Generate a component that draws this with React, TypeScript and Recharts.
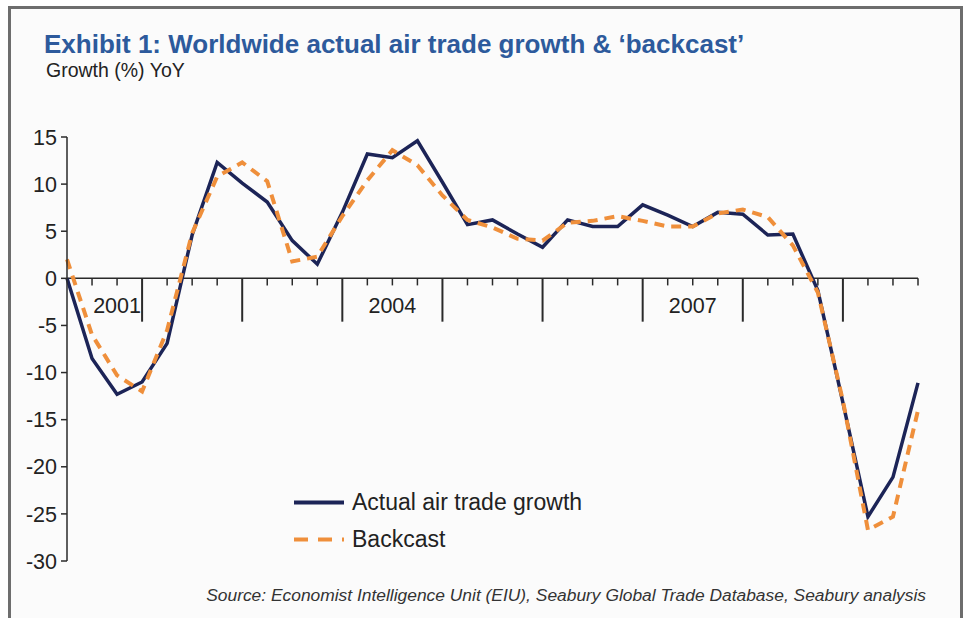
import React from 'react';
import { LineChart, Line, XAxis, YAxis, ReferenceLine, ReferenceDot, Legend } from 'recharts';

const quarters = [
  '2001 Q1', '2001 Q2', '2001 Q3', '2001 Q4',
  '2002 Q1', '2002 Q2', '2002 Q3', '2002 Q4',
  '2003 Q1', '2003 Q2', '2003 Q3', '2003 Q4',
  '2004 Q1', '2004 Q2', '2004 Q3', '2004 Q4',
  '2005 Q1', '2005 Q2', '2005 Q3', '2005 Q4',
  '2006 Q1', '2006 Q2', '2006 Q3', '2006 Q4',
  '2007 Q1', '2007 Q2', '2007 Q3', '2007 Q4',
  '2008 Q1', '2008 Q2', '2008 Q3', '2008 Q4',
  '2009 Q1', '2009 Q2', '2009 Q3',
];

const actualGrowth = [
  0, -8.5, -12.3, -11.0,
  -6.9, 4.6, 12.3, 10.1,
  8.1, 4.0, 1.5, 7.0,
  13.2, 12.8, 14.6, 10.2,
  5.7, 6.2, 4.7, 3.3,
  6.2, 5.5, 5.5, 7.8,
  6.7, 5.5, 7.0, 6.8,
  4.6, 4.7, -1.3, -13.2,
  -25.3, -21.1, -11.1,
];

const backcastGrowth = [
  2.0, -6.0, -10.3, -12.0,
  -5.5, 4.8, 10.8, 12.3,
  10.3, 1.8, 2.3, 6.6,
  10.4, 13.6, 12.0, 8.8,
  6.2, 5.4, 4.2, 4.0,
  5.9, 6.1, 6.6, 6.1,
  5.5, 5.5, 6.9, 7.3,
  6.5, 3.5, -1.5, -13.0,
  -26.7, -25.3, -14.0,
];

const yTicks = [15, 10, 5, 0, -5, -10, -15, -20, -25, -30];
const yearLabels = ['2001', '2004', '2007'];
const yearLabelAt = [2, 13, 25];
const majorTickAt = [3, 7, 11, 15, 19, 23, 27, 31];

const seriesNames = ['Actual air trade growth', 'Backcast'];

const data = quarters.map((q, i) => ({
  idx: i,
  quarter: q,
  actual: actualGrowth[i],
  backcast: backcastGrowth[i],
}));

const FONT = "'Liberation Sans', Arial, Helvetica, sans-serif";
const NAVY = '#1c2457';
const ORANGE = '#ef8f3b';
const AXIS = '#2a2a2a';
const MINOR_LEN = 0.75;
const MAJOR_LEN = 4.6;

const renderLegend = (props: any) => {
  const payload = props.payload || [];
  return (
    <div style={{ fontFamily: FONT }}>
      {payload.map((entry: any, i: number) => (
        <div key={i} style={{ display: 'flex', alignItems: 'center', height: 37 }}>
          <svg width={58} height={37} style={{ display: 'block' }}>
            <line
              x1={0}
              x2={50}
              y1={18.5}
              y2={18.5}
              stroke={entry.color}
              strokeWidth={4}
              strokeDasharray={entry.payload && entry.payload.strokeDasharray ? '14 10' : undefined}
            />
          </svg>
          <span style={{ fontSize: 23, lineHeight: '37px', color: '#222', whiteSpace: 'nowrap' }}>
            {entry.value}
          </span>
        </div>
      ))}
    </div>
  );
};

export default function App() {
  const lastIdx = quarters.length - 1;
  return (
    <div
      style={{
        position: 'absolute',
        left: 0,
        top: 0,
        width: 966,
        height: 618,
        overflow: 'hidden',
        background: '#ffffff',
        fontFamily: FONT,
      }}
    >
      <div
        style={{
          position: 'absolute',
          left: 8,
          top: 6,
          width: 949,
          height: 700,
          border: '3px solid #6d6d6d',
          background: '#fbfbfb',
        }}
      />
      <div
        style={{
          position: 'absolute',
          left: 0,
          top: 0,
        }}
      >
        <LineChart
          width={966}
          height={618}
          data={data}
          margin={{ top: 137, right: 48, bottom: 57, left: 0 }}
        >
          <XAxis dataKey="idx" type="number" domain={[0, lastIdx]} hide />
          <YAxis
            type="number"
            domain={[-30, 15]}
            ticks={yTicks}
            interval={0}
            width={67}
            axisLine={{ stroke: AXIS, strokeWidth: 1.5 }}
            tickLine={{ stroke: AXIS, strokeWidth: 1.5 }}
            tickSize={6}
            tickMargin={4}
            tick={{ fontSize: 21.5, fill: '#222', fontFamily: FONT }}
          />
          <ReferenceLine y={0} stroke={AXIS} strokeWidth={1.5} ifOverflow="visible" />
          {data.slice(1).map((d) => (
            <ReferenceLine
              key={'t' + d.idx}
              segment={[
                { x: d.idx, y: 0 },
                { x: d.idx, y: majorTickAt.includes(d.idx) ? -MAJOR_LEN : -MINOR_LEN },
              ]}
              stroke={AXIS}
              strokeWidth={majorTickAt.includes(d.idx) ? 2 : 1.5}
              ifOverflow="visible"
            />
          ))}
          {yearLabels.map((yr, i) => (
            <ReferenceDot
              key={yr}
              x={yearLabelAt[i]}
              y={0}
              r={0}
              fill="none"
              stroke="none"
              ifOverflow="visible"
              label={(p: any) => {
                const vb = p.viewBox || {};
                const cx = (vb.x || 0) + (vb.width || 0) / 2;
                const cy = (vb.y || 0) + (vb.height || 0) / 2;
                return (
                  <text
                    x={cx}
                    y={cy + 35}
                    textAnchor="middle"
                    fontSize={21.5}
                    fill="#222"
                    fontFamily={FONT}
                  >
                    {yr}
                  </text>
                );
              }}
            />
          ))}
          <Line
            type="linear"
            dataKey="actual"
            name={seriesNames[0]}
            stroke={NAVY}
            strokeWidth={3.5}
            dot={false}
            activeDot={false}
            isAnimationActive={false}
          />
          <Line
            type="linear"
            dataKey="backcast"
            name={seriesNames[1]}
            stroke={ORANGE}
            strokeWidth={4}
            strokeDasharray="10 7"
            dot={false}
            activeDot={false}
            isAnimationActive={false}
          />
          <Legend
            layout="vertical"
            align="center"
            verticalAlign="middle"
            content={renderLegend}
            wrapperStyle={{ left: 294, top: 484, width: 340, height: 74 }}
          />
        </LineChart>
      </div>
      <div
        style={{
          position: 'absolute',
          left: 44,
          top: 31,
          fontSize: 26,
          lineHeight: '26px',
          fontWeight: 'bold',
          color: '#2d5a9c',
          whiteSpace: 'nowrap',
        }}
      >
        Exhibit 1: Worldwide actual air trade growth &amp; ‘backcast’
      </div>
      <div
        style={{
          position: 'absolute',
          left: 46,
          top: 61,
          fontSize: 19.5,
          lineHeight: '19.5px',
          color: '#222',
          whiteSpace: 'nowrap',
        }}
      >
        Growth (%) YoY
      </div>
      <div
        style={{
          position: 'absolute',
          right: 966 - 926,
          top: 587,
          fontSize: 17.4,
          lineHeight: '17.4px',
          fontStyle: 'italic',
          color: '#333',
          whiteSpace: 'nowrap',
        }}
      >
        Source: Economist Intelligence Unit (EIU), Seabury Global Trade Database, Seabury analysis
      </div>
    </div>
  );
}
